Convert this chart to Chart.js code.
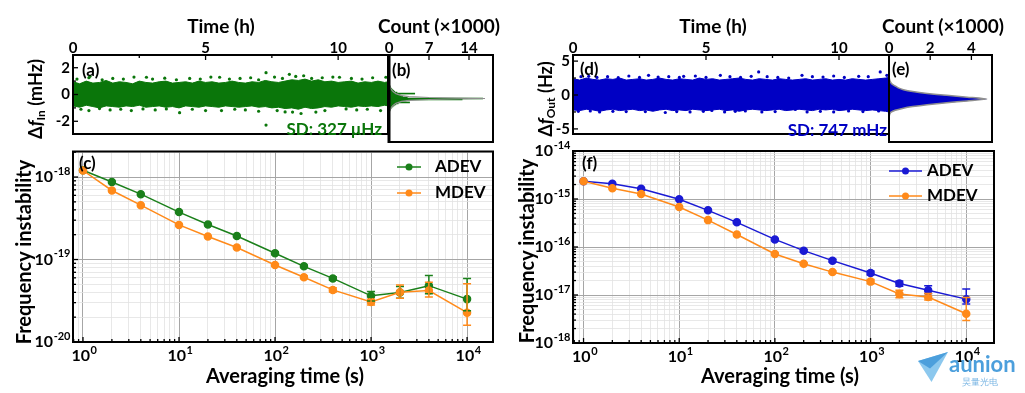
<!DOCTYPE html>
<html>
<head>
<meta charset="utf-8">
<script src="https://cdn.jsdelivr.net/npm/chart.js@4.4.1/dist/chart.umd.min.js"></script>
<style>
  body { margin: 0; background: #fff; }
  #page { position: relative; width: 1025px; height: 393px; overflow: hidden;
          font-family: Lato, "DejaVu Sans", sans-serif; font-weight: bold; }
  canvas { position: absolute; }
  .t { position: absolute; white-space: nowrap; line-height: 1; color: #000; }
  .c { transform: translate(-50%, -50%); }
  .r { transform: translate(-50%, -50%) rotate(-90deg); }
  .p { font-size: 17px; transform: translateY(-50%); }
  sub { font-size: 12px; vertical-align: -3px; }
</style>
</head>
<body>
<div id="page">
  <canvas id="cA" width="392" height="146" style="left:0;top:0"></canvas>
  <canvas id="cB" width="128" height="146" style="left:375px;top:0"></canvas>
  <canvas id="cC" width="503" height="247" style="left:0;top:146px"></canvas>
  <canvas id="cD" width="395" height="146" style="left:500px;top:0"></canvas>
  <canvas id="cE" width="125" height="146" style="left:875px;top:0"></canvas>
  <canvas id="cF" width="500" height="253" style="left:503px;top:140px"></canvas>

  <div class="t c" style="left:221px;top:25px;font-size:19px">Time (h)</div>
  <div class="t c" style="left:439px;top:25px;font-size:19px">Count (×1000)</div>
  <div class="t c" style="left:713px;top:25px;font-size:19px">Time (h)</div>
  <div class="t c" style="left:943px;top:25px;font-size:19px">Count (×1000)</div>
  <div class="t r" style="left:36px;top:99px;font-size:18px">Δ<i>f</i><sub>In</sub> (mHz)</div>
  <div class="t r" style="left:546px;top:99px;font-size:18px">Δ<i>f</i><sub>Out</sub> (Hz)</div>
  <div class="t r" style="left:23px;top:252px;font-size:20px">Frequency instability</div>
  <div class="t r" style="left:526px;top:251px;font-size:20px">Frequency instability</div>
  <div class="t c" style="left:285px;top:375px;font-size:20px">Averaging time (s)</div>
  <div class="t c" style="left:780px;top:375px;font-size:20px">Averaging time (s)</div>

  <div class="t p" style="left:82px;top:69px">(a)</div>
  <div class="t p" style="left:392px;top:69px">(b)</div>
  <div class="t p" style="left:79px;top:162px">(c)</div>
  <div class="t p" style="left:580px;top:68px">(d)</div>
  <div class="t p" style="left:892px;top:68px">(e)</div>
  <div class="t p" style="left:582px;top:162px">(f)</div>
  <div class="t p" style="right:643px;top:128px;color:#0a760a">SD: 327 μHz</div>
  <div class="t p" style="right:138px;top:129px;color:#0000c4">SD: 747 mHz</div>

  <div style="position:absolute;left:918px;top:352px;width:30px;height:30px;background:#8cc8ee;clip-path:polygon(0 30%,100% 0,45% 100%)"></div>
  <div style="position:absolute;left:918px;top:352px;width:30px;height:30px;background:#4c9fdc;clip-path:polygon(0 30%,100% 0,40% 55%)"></div>
  <div class="t" style="left:949px;top:353px;font-size:22px;color:#4c9fdc">aunion</div>
  <div class="t" style="left:962px;top:377px;font-size:9px;color:#7ab6e4;font-weight:normal">昊量光电</div>
</div>

<script>
// ---- time series (a), (d): dense band envelope + stray points
const tBand = [0, 0.25, 0.5, 0.75, 1, 1.25, 1.5, 1.75, 2, 2.25,
  2.5, 2.75, 3, 3.25, 3.5, 3.75, 4, 4.25, 4.5, 4.75,
  5, 5.25, 5.5, 5.75, 6, 6.25, 6.5, 6.75, 7, 7.25,
  7.5, 7.75, 8, 8.25, 8.5, 8.75, 9, 9.25, 9.5, 9.75,
  10, 10.25, 10.5, 10.75, 11, 11.25, 11.5, 11.75, 11.88];
const upperIn = [0.95, 0.8, 1.0, 0.85, 0.9, 1.05, 0.85, 0.95, 0.9, 0.8,
  1.0, 0.9, 0.85, 0.95, 1.0, 0.85, 0.9, 0.95, 0.85, 1.0,
  0.9, 0.95, 0.85, 0.9, 1.0, 0.9, 0.85, 0.95, 0.9, 1.05,
  0.95, 0.9, 1.0, 1.1, 1.05, 1.15, 1.0, 1.1, 0.95, 1.0,
  0.9, 0.95, 1.0, 0.85, 0.95, 0.9, 1.0, 0.9, 0.95];
const lowerIn = [-0.85, -0.95, -0.8, -0.9, -1.0, -0.85, -0.9, -0.95, -0.85, -0.9,
  -0.8, -0.95, -0.9, -0.85, -0.95, -0.9, -1.0, -0.85, -0.9, -0.95,
  -0.85, -0.9, -0.95, -0.85, -0.9, -0.95, -0.9, -0.85, -0.95, -0.9,
  -1.0, -0.95, -1.05, -1.0, -1.1, -0.95, -1.05, -1.0, -0.9, -0.95,
  -0.85, -0.9, -0.95, -0.85, -0.9, -0.85, -0.9, -0.8, -0.85];
const outliersIn = [[0.15, 1.15], [0.6, 1.25], [0.64, 1.36], [1.1, 1.1], [1.5, 1.2], [1.9, 1.15],
  [2.3, 1.3], [2.77, 1.29], [3.0, 1.15], [3.46, 1.22], [3.9, 1.1], [4.4, 1.2], [4.8, 1.15],
  [5.2, 1.3], [5.53, 1.29], [5.9, 1.15], [6.3, 1.2], [6.7, 1.25], [7.0, 1.1], [7.28, 1.63],
  [7.6, 1.3], [7.9, 1.2], [8.16, 1.51], [8.4, 1.35], [8.7, 1.4], [9.0, 1.2], [9.4, 1.25],
  [9.8, 1.3], [10.05, 1.29], [10.5, 1.2], [10.9, 1.15], [11.3, 1.25], [11.8, 1.29],
  [0.3, -1.1], [0.6, -1.2], [1.0, -1.05], [1.4, -1.15], [1.8, -1.1], [2.2, -1.2], [2.64, -1.08],
  [3.1, -1.15], [3.52, -1.08], [4.02, -1.36], [4.5, -1.1], [5.0, -1.2], [5.6, -1.2], [6.1, -1.1],
  [6.5, -1.15], [7.0, -1.25], [7.28, -2.28], [7.7, -1.2], [8.0, -1.3], [8.28, -1.31], [8.6, -1.42],
  [9.16, -1.31], [9.5, -1.2], [10.3, -1.08], [10.7, -1.15], [11.1, -1.1], [11.6, -1.2]];

const upperOut = [2.4, 2.2, 2.5, 2.3, 2.2, 2.4, 2.3, 2.5, 2.2, 2.3,
  2.4, 2.2, 2.3, 2.5, 2.3, 2.2, 2.4, 2.3, 2.2, 2.5,
  2.3, 2.4, 2.2, 2.3, 2.4, 2.5, 2.3, 2.2, 2.4, 2.3,
  2.2, 2.4, 2.3, 2.2, 2.3, 2.4, 2.2, 2.3, 2.4, 2.2,
  2.3, 2.2, 2.4, 2.3, 2.2, 2.3, 2.4, 2.5, 2.6];
const lowerOut = [-2.2, -2.3, -2.1, -2.2, -2.4, -2.2, -2.1, -2.3, -2.2, -2.1,
  -2.3, -2.2, -2.4, -2.2, -2.1, -2.3, -2.2, -2.3, -2.1, -2.2,
  -2.3, -2.2, -2.1, -2.3, -2.2, -2.4, -2.2, -2.1, -2.2, -2.3,
  -2.2, -2.1, -2.3, -2.2, -2.1, -2.2, -2.3, -2.1, -2.2, -2.1,
  -2.3, -2.2, -2.1, -2.2, -2.3, -2.2, -2.3, -2.4, -2.5];
const outliersOut = [[0.3, 2.7], [0.59, 2.75], [0.9, 2.6], [1.3, 2.7], [1.7, 2.55], [2.1, 2.8],
  [2.5, 2.6], [2.84, 2.9], [3.2, 2.65], [3.6, 2.7], [4.0, 2.6], [4.16, 2.75], [4.6, 2.8],
  [5.0, 2.6], [5.54, 2.9], [5.9, 2.7], [6.3, 2.6], [6.7, 2.75], [6.98, 3.4], [7.3, 2.7],
  [7.7, 2.6], [8.11, 2.5], [8.61, 2.9], [9.0, 2.7], [9.4, 2.65], [9.8, 2.8], [10.2, 2.6],
  [10.74, 2.75], [11.1, 2.7], [11.55, 3.4], [11.8, 2.9],
  [0.2, -2.4], [0.65, -2.35], [1.0, -2.5], [1.5, -2.4], [2.0, -2.45], [2.72, -2.44],
  [3.47, -2.58], [3.9, -2.45], [4.4, -2.5], [4.9, -2.4], [5.22, -2.27], [5.7, -2.5],
  [6.1, -2.4], [6.48, -2.35], [7.1, -2.5], [7.6, -2.45], [8.36, -2.13], [8.8, -2.5],
  [9.3, -2.4], [9.8, -2.5], [10.36, -2.35], [10.9, -2.45], [11.49, -2.35]];

// ---- histograms (b), (e), counts in thousands
const histInVal = [1.5, 1.4, 1.3, 1.2, 1.1, 1.0, 0.9, 0.8, 0.7, 0.6, 0.5, 0.4, 0.3, 0.2, 0.1, 0,
  -0.1, -0.2, -0.3, -0.4, -0.5, -0.6, -0.7, -0.8, -0.9, -1.0, -1.1, -1.2, -1.3, -1.4, -1.5];
const histInCnt = [0.05, 0.1, 0.15, 0.2, 0.3, 0.45, 0.6, 0.8, 1.0, 1.4, 4.5, 1.8, 2.0, 2.4, 3.2, 16.4,
  12.8, 3.0, 2.2, 3.6, 1.6, 1.2, 0.9, 0.7, 0.5, 0.35, 0.25, 0.15, 0.1, 0.05, 0.05];
const fitInVal = [1.4, 1.0, 0.7, 0.5, 0.3, 0.2, 0.1, 0.05, 0, -0.05, -0.1, -0.2, -0.3, -0.5, -0.7, -1.0, -1.4];
const fitInCnt = [0.05, 0.3, 0.7, 1.2, 2.2, 3.5, 7.0, 11.5, 16.8, 11.5, 7.0, 3.5, 2.2, 1.2, 0.7, 0.3, 0.05];
const histOutVal = [3.0, 2.6, 2.3, 2.0, 1.75, 1.5, 1.25, 1.0, 0.75, 0.5, 0.25, 0,
  -0.25, -0.5, -0.75, -1.0, -1.25, -1.5, -1.75, -2.0, -2.4];
const histOutCnt = [0, 0.03, 0.07, 0.15, 0.3, 0.45, 0.7, 1.15, 1.85, 2.8, 3.8, 4.75,
  3.8, 2.8, 1.85, 1.15, 0.65, 0.3, 0.1, 0.04, 0];

// ---- Allan / modified Allan deviation (c), (f)
const tau = [1, 2, 4, 10, 20, 40, 100, 200, 400, 1000, 2000, 4000, 10000];
const adevIn = [1.21e-18, 8.7e-19, 6.2e-19, 3.76e-19, 2.66e-19, 1.93e-19, 1.19e-19, 8.26e-20, 5.9e-20, 3.63e-20, 3.98e-20, 4.82e-20, 3.31e-20];
const adevInLo = [null, null, null, null, null, null, 1.15e-19, 8.0e-20, 5.6e-20, 3.15e-20, 3.4e-20, 3.85e-20, 2.4e-20];
const adevInHi = [null, null, null, null, null, null, 1.23e-19, 8.5e-20, 6.2e-20, 4.1e-20, 4.7e-20, 6.4e-20, 5.9e-20];
const mdevIn = [1.2e-18, 6.87e-19, 4.56e-19, 2.63e-19, 1.9e-19, 1.4e-19, 8.57e-20, 6.1e-20, 4.28e-20, 3.05e-20, 4.0e-20, 4.2e-20, 2.27e-20];
const mdevInLo = [null, null, null, null, null, null, 8.3e-20, 5.9e-20, 4.05e-20, 2.8e-20, 3.38e-20, 3.5e-20, 1.6e-20];
const mdevInHi = [null, null, null, null, null, null, 8.85e-20, 6.3e-20, 4.55e-20, 3.3e-20, 4.9e-20, 5.3e-20, 5.1e-20];
const adevOut = [2.34e-15, 2.08e-15, 1.64e-15, 9.86e-16, 5.8e-16, 3.26e-16, 1.44e-16, 8.4e-17, 5.2e-17, 2.88e-17, 1.73e-17, 1.25e-17, 8.2e-18];
const adevOutLo = [null, null, null, null, 5.6e-16, 3.12e-16, 1.37e-16, 7.9e-17, 4.85e-17, 2.62e-17, 1.52e-17, 1.08e-17, 6.5e-18];
const adevOutHi = [null, null, null, null, 6.0e-16, 3.4e-16, 1.51e-16, 8.9e-17, 5.55e-17, 3.15e-17, 1.95e-17, 1.56e-17, 1.33e-17];
const mdevOut = [2.34e-15, 1.67e-15, 1.27e-15, 6.8e-16, 3.63e-16, 1.82e-16, 7.14e-17, 4.49e-17, 3.0e-17, 1.9e-17, 1.05e-17, 9.1e-18, 4.07e-18];
const mdevOutLo = [null, null, null, null, null, null, 6.9e-17, 4.3e-17, 2.85e-17, 1.72e-17, 8.8e-18, 7.9e-18, 2.95e-18];
const mdevOutHi = [null, null, null, null, null, null, 7.4e-17, 4.7e-17, 3.15e-17, 2.1e-17, 1.25e-17, 1.07e-17, 8.9e-18];

// tick labels
const tauTicks = [1, 10, 100, 1000, 10000];
const instInTicks = [1e-20, 1e-19, 1e-18];
const instOutTicks = [1e-18, 1e-17, 1e-16, 1e-15, 1e-14];

const GREEN = '#0a760a', GREEN_L = '#1b801b', BLUE = '#0000c4', BLUE_L = '#1a1ad4';
const ORANGE = '#ff8a1a', FIT = '#8f8f8f';

Chart.defaults.font.family = 'Lato, "DejaVu Sans", sans-serif';
Chart.defaults.font.size = 15;
Chart.defaults.font.weight = 'bold';
Chart.defaults.color = '#000';

// black box round the plot area, ticks pointing inwards
const frame = {
  id: 'frame',
  afterDraw(chart, args, o) {
    const { ctx, chartArea: a } = chart;
    ctx.save();
    ctx.strokeStyle = '#000';
    ctx.lineWidth = 1.3;
    for (const s of Object.values(chart.scales)) {
      if (!s.options.display) continue;
      const log = s.type === 'logarithmic';
      for (const t of s.ticks) {
        const major = log ? t.major : (t.label !== '' && t.label != null);
        const len = major ? 5 : 3;
        const p = s.getPixelForValue(t.value);
        ctx.beginPath();
        if (s.isHorizontal()) {
          const y0 = s.position === 'top' ? a.top : a.bottom;
          ctx.moveTo(p, y0);
          ctx.lineTo(p, s.position === 'top' ? y0 + len : y0 - len);
        } else {
          ctx.moveTo(a.left, p);
          ctx.lineTo(a.left + len, p);
        }
        ctx.stroke();
      }
    }
    ctx.lineWidth = 2;
    ctx.strokeRect(a.left, a.top, a.right - a.left, a.bottom - a.top);
    if (o.leftWidth) {
      ctx.lineWidth = o.leftWidth;
      ctx.beginPath();
      ctx.moveTo(a.left, a.top - 1);
      ctx.lineTo(a.left, a.bottom + 1);
      ctx.stroke();
    }
    ctx.restore();
  }
};

const errorBars = {
  id: 'errorBars',
  afterDatasetsDraw(chart) {
    const ctx = chart.ctx;
    chart.data.datasets.forEach((ds, i) => {
      if (!ds.errLo) return;
      const meta = chart.getDatasetMeta(i);
      const ys = chart.scales[meta.yAxisID];
      ctx.save();
      ctx.strokeStyle = ds.borderColor;
      ctx.lineWidth = 1.5;
      meta.data.forEach((pt, j) => {
        if (ds.errLo[j] == null) return;
        const y1 = ys.getPixelForValue(ds.errLo[j]);
        const y2 = ys.getPixelForValue(ds.errHi[j]);
        ctx.beginPath();
        ctx.moveTo(pt.x, y1); ctx.lineTo(pt.x, y2);
        ctx.moveTo(pt.x - 4, y1); ctx.lineTo(pt.x + 4, y1);
        ctx.moveTo(pt.x - 4, y2); ctx.lineTo(pt.x + 4, y2);
        ctx.stroke();
      });
      ctx.restore();
    });
  }
};

// decade labels written as 10 with a raised exponent
const logLabels = {
  id: 'logLabels',
  afterDraw(chart, args, o) {
    if (!o.axes) return;
    const ctx = chart.ctx, a = chart.chartArea;
    ctx.save();
    ctx.fillStyle = '#000';
    ctx.textBaseline = 'middle';
    ctx.textAlign = 'left';
    for (const id of o.axes) {
      const s = chart.scales[id];
      for (const t of s.ticks) {
        if (!t.major) continue;
        const e = String(Math.round(Math.log10(t.value)));
        ctx.font = 'bold 16px Lato';
        const w1 = ctx.measureText('10').width;
        ctx.font = 'bold 11px Lato';
        const w2 = ctx.measureText(e).width;
        const p = s.getPixelForValue(t.value);
        let x, y;
        if (s.isHorizontal()) { x = p - (w1 + w2) / 2 + 1; y = a.bottom + 14; }
        else { x = a.left - 3 - w1 - w2; y = p; }
        ctx.font = 'bold 16px Lato';
        ctx.fillText('10', x, y);
        ctx.font = 'bold 11px Lato';
        ctx.fillText(e, x + w1 + 0.5, y - 6);
      }
    }
    ctx.restore();
  }
};

const key = {
  id: 'key',
  afterDraw(chart, args, o) {
    if (!o.items) return;
    const ctx = chart.ctx;
    ctx.save();
    o.items.forEach((it, i) => {
      const y = o.y + i * o.dy;
      ctx.strokeStyle = it.color;
      ctx.lineWidth = 1.5;
      ctx.beginPath(); ctx.moveTo(o.x, y); ctx.lineTo(o.x + o.len, y); ctx.stroke();
      ctx.fillStyle = it.color;
      ctx.beginPath(); ctx.arc(o.x + o.len / 2, y, 3.5, 0, 2 * Math.PI); ctx.fill();
      ctx.fillStyle = '#000';
      ctx.font = 'bold 17px Lato';
      ctx.textBaseline = 'middle';
      ctx.fillText(it.label, o.x + o.len + o.gap, y);
    });
    ctx.restore();
  }
};

Chart.register(frame, errorBars, logLabels, key);

const pts = (xs, ys) => xs.map((x, i) => ({ x, y: ys[i] }));
const pairs = list => list.map(([x, y]) => ({ x, y }));

function base(padding, plugins) {
  return {
    responsive: false, animation: false, events: [],
    layout: { padding },
    plugins: Object.assign({ legend: { display: false }, tooltip: { enabled: false } }, plugins || {})
  };
}

function topAxis(min, max, step, every, h) {
  return {
    type: 'linear', position: 'top', min, max,
    ticks: { stepSize: step, autoSkip: false, includeBounds: false, padding: -2, maxRotation: 0,
      callback: v => (Math.abs(v / every - Math.round(v / every)) < 1e-6 ? v : '') },
    grid: { display: false, drawTicks: false }, border: { display: false },
    afterFit: s => { s.height = h; }
  };
}

function leftAxis(min, max, step, every, w) {
  return {
    type: 'linear', position: 'left', min, max,
    ticks: { stepSize: step, autoSkip: false, includeBounds: false, padding: 3,
      callback: v => (Math.abs(v / every - Math.round(v / every)) < 1e-6 ? v : '') },
    grid: { display: false, drawTicks: false }, border: { display: false },
    afterFit: s => { s.width = w; }
  };
}

function logTicks(majors) {
  return scale => {
    const list = [];
    [majors[0] / 10, ...majors].forEach(m => {
      for (let k = 1; k < 10; k++) {
        const v = k * m;
        if (v >= scale.min * 0.9999 && v <= scale.max * 1.0001) {
          list.push({ value: v, major: k === 1 && majors.includes(m) });
        }
      }
    });
    scale.ticks = list;
  };
}

function logAxis(pos, min, max, majors, size) {
  return {
    type: 'logarithmic', position: pos, min, max,
    afterBuildTicks: logTicks(majors),
    ticks: { display: false },
    grid: { drawTicks: false,
      color: c => (c.tick && c.tick.major ? '#a6a6a6' : '#e2e2e2'),
      lineWidth: c => (c.tick && c.tick.major ? 1 : 0.8) },
    border: { display: false },
    afterFit: s => { if (pos === 'left') s.width = size; else s.height = size; }
  };
}

// (a) frequency deviation of the input versus time
new Chart(document.getElementById('cA'), {
  type: 'line',
  data: { datasets: [
    { data: pts(tBand, upperIn), borderColor: GREEN, borderWidth: 1, pointRadius: 0, fill: '+1', backgroundColor: GREEN },
    { data: pts(tBand, lowerIn), borderColor: GREEN, borderWidth: 1, pointRadius: 0, fill: false },
    { data: pairs(outliersIn), showLine: false, pointRadius: 1.6, pointBorderWidth: 0, pointBackgroundColor: GREEN, borderColor: GREEN }
  ] },
  options: Object.assign(base({ left: 0, top: 0, right: 3, bottom: 4 }), {
    scales: { x: topAxis(0, 11.88, 2.5, 5, 55), y: leftAxis(-2.95, 2.95, 1, 2, 73) }
  })
});

// (b) histogram of (a)
new Chart(document.getElementById('cB'), {
  type: 'bar',
  data: { datasets: [
    { type: 'bar', data: pts(histInCnt, histInVal), backgroundColor: GREEN, barPercentage: 1, categoryPercentage: 1, order: 1 },
    { type: 'line', data: pts(fitInCnt, fitInVal), borderColor: FIT, borderWidth: 1.2, pointRadius: 0, fill: false, order: 0 }
  ] },
  options: Object.assign(base({ left: 14, top: 0, right: 10, bottom: 4 }, { frame: { leftWidth: 3 } }), {
    indexAxis: 'y',
    scales: { x: topAxis(0, 18.2, 7, 7, 55), y: { type: 'linear', display: false, min: -2.95, max: 2.95 } }
  })
});

// (c) input instability
new Chart(document.getElementById('cC'), {
  type: 'line',
  data: { datasets: [
    { label: 'ADEV', data: pts(tau, adevIn), borderColor: GREEN_L, backgroundColor: GREEN_L, borderWidth: 1.5, pointRadius: 3.5, order: 1, errLo: adevInLo, errHi: adevInHi },
    { label: 'MDEV', data: pts(tau, mdevIn), borderColor: ORANGE, backgroundColor: ORANGE, borderWidth: 1.5, pointRadius: 3.5, order: 0, errLo: mdevInLo, errHi: mdevInHi }
  ] },
  options: Object.assign(base({ left: 0, top: 3, right: 10, bottom: 0 }, {
    logLabels: { axes: ['x', 'y'] },
    key: { x: 397, y: 21, dy: 26, len: 24, gap: 14, items: [{ label: 'ADEV', color: GREEN_L }, { label: 'MDEV', color: ORANGE }] }
  }), {
    scales: { x: logAxis('bottom', 0.787, 18620, tauTicks, 51), y: logAxis('left', 1e-20, 2.04e-18, instInTicks, 73) }
  })
});

// (d) frequency deviation of the output versus time
new Chart(document.getElementById('cD'), {
  type: 'line',
  data: { datasets: [
    { data: pts(tBand, upperOut), borderColor: BLUE, borderWidth: 1, pointRadius: 0, fill: '+1', backgroundColor: BLUE },
    { data: pts(tBand, lowerOut), borderColor: BLUE, borderWidth: 1, pointRadius: 0, fill: false },
    { data: pairs(outliersOut), showLine: false, pointRadius: 1.6, pointBorderWidth: 0, pointBackgroundColor: BLUE, borderColor: BLUE }
  ] },
  options: Object.assign(base({ left: 0, top: 0, right: 6, bottom: 4 }), {
    scales: { x: topAxis(0, 11.88, 2.5, 5, 55), y: leftAxis(-5.75, 5.9, 2.5, 5, 73) }
  })
});

// (e) histogram of (d)
new Chart(document.getElementById('cE'), {
  type: 'line',
  data: { datasets: [
    { data: pts(histOutCnt, histOutVal), borderColor: FIT, borderWidth: 1.5, backgroundColor: BLUE, fill: 'origin', pointRadius: 0, tension: 0.2 }
  ] },
  options: Object.assign(base({ left: 14, top: 0, right: 8, bottom: 4 }), {
    indexAxis: 'y',
    scales: { x: topAxis(0, 5.0, 2, 2, 55), y: { type: 'linear', display: false, min: -5.75, max: 5.9 } }
  })
});

// (f) output instability
new Chart(document.getElementById('cF'), {
  type: 'line',
  data: { datasets: [
    { label: 'ADEV', data: pts(tau, adevOut), borderColor: BLUE_L, backgroundColor: BLUE_L, borderWidth: 1.5, pointRadius: 3.5, order: 1, errLo: adevOutLo, errHi: adevOutHi },
    { label: 'MDEV', data: pts(tau, mdevOut), borderColor: ORANGE, backgroundColor: ORANGE, borderWidth: 1.5, pointRadius: 3.5, order: 0, errLo: mdevOutLo, errHi: mdevOutHi }
  ] },
  options: Object.assign(base({ left: 0, top: 11, right: 9, bottom: 0 }, {
    logLabels: { axes: ['x', 'y'] },
    key: { x: 386, y: 31, dy: 25, len: 33, gap: 5, items: [{ label: 'ADEV', color: BLUE_L }, { label: 'MDEV', color: ORANGE }] }
  }), {
    scales: { x: logAxis('bottom', 0.776, 19500, tauTicks, 50), y: logAxis('left', 1e-18, 1e-14, instOutTicks, 70) }
  })
});
</script>
</body>
</html>
